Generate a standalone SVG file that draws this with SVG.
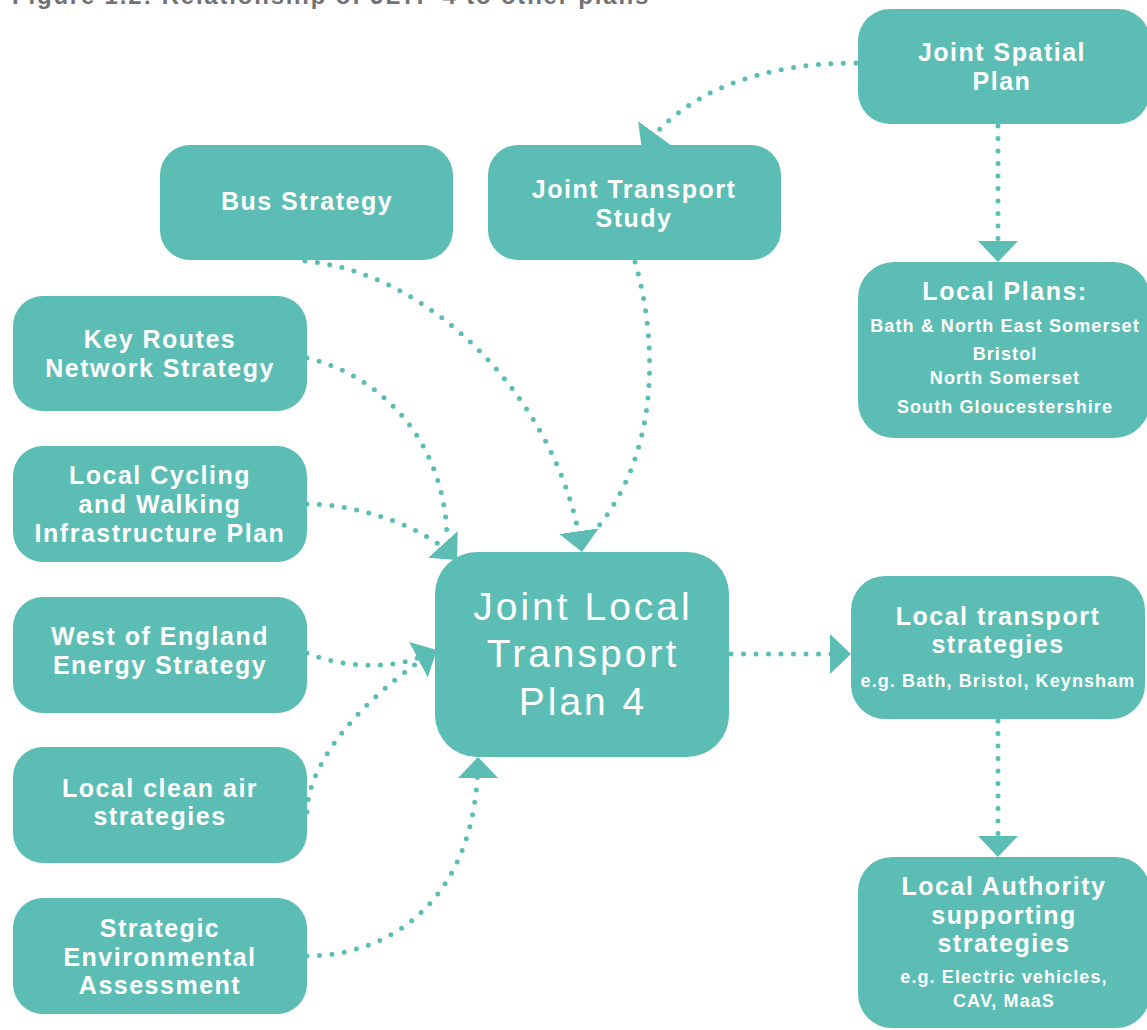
<svg xmlns="http://www.w3.org/2000/svg" width="1147" height="1030" viewBox="0 0 1147 1030">
  <style>
    .box { fill: #5BBDB4; }
    .t { fill: #ffffff; font-family: "Liberation Sans", Arial, sans-serif; font-weight: bold; font-size: 25px; letter-spacing: 1.5px; text-anchor: middle; }
    .s { font-size: 18px; letter-spacing: 1.1px; }
    .big { font-weight: normal; font-size: 39px; letter-spacing: 3px; }
    .title { fill: #707174; font-family: "Liberation Sans", Arial, sans-serif; font-weight: bold; font-size: 24px; letter-spacing: 1.8px; }
    .c { fill: none; stroke: #5BBDB4; stroke-width: 5; stroke-linecap: round; stroke-dasharray: 0 12.5; }
  </style>
  <defs>
    <marker id="arrow" markerUnits="userSpaceOnUse" markerWidth="22" markerHeight="40" refX="21" refY="20" orient="auto" viewBox="0 0 22 40">
      <path d="M0,0 L21,20 L0,40 Z" fill="#5BBDB4"/>
    </marker>
  </defs>

  <rect width="1147" height="1030" fill="#ffffff"/>

  <text class="title" x="12" y="4">Figure 1.2: Relationship of JLTP 4 to other plans</text>

  <g id="connectors">
    <path class="c" d="M856,63 C760,63 684,92 642,150" marker-end="url(#arrow)"/>
    <path class="c" d="M998,126 L998,262" marker-end="url(#arrow)"/>
    <path class="c" d="M305,261 C430,272 560,400 582,552" marker-end="url(#arrow)"/>
    <path class="c" d="M635,262 C655,330 665,450 593,533"/>
    <path class="c" d="M307,358 C380,375 445,440 447,538"/>
    <path class="c" d="M307,504 C360,504 428,528 457,560" marker-end="url(#arrow)"/>
    <path class="c" d="M307,653 C345,668 395,672 437,650" marker-end="url(#arrow)"/>
    <path class="c" d="M307,812 C308,760 365,700 416,664"/>
    <path class="c" d="M307,956 C390,956 478,900 478,757" marker-end="url(#arrow)"/>
    <path class="c" d="M731,654 L851,654" marker-end="url(#arrow)"/>
    <path class="c" d="M998,721 L998,857" marker-end="url(#arrow)"/>
  </g>

  <g id="joint-spatial-plan">
    <rect class="box" x="858" y="9" width="292" height="115" rx="32"/>
    <text class="t" x="1002" y="61">Joint Spatial</text>
    <text class="t" x="1002" y="90">Plan</text>
  </g>

  <g id="local-plans">
    <rect class="box" x="858" y="262" width="292" height="176" rx="36"/>
    <text class="t" x="1005" y="300">Local Plans:</text>
    <text class="t s" x="1005" y="332">Bath &amp; North East Somerset</text>
    <text class="t s" x="1005" y="360">Bristol</text>
    <text class="t s" x="1005" y="384">North Somerset</text>
    <text class="t s" x="1005" y="413">South Gloucestershire</text>
  </g>

  <g id="bus-strategy">
    <rect class="box" x="160" y="145" width="293" height="115" rx="30"/>
    <text class="t" x="307" y="210">Bus Strategy</text>
  </g>

  <g id="joint-transport-study">
    <rect class="box" x="488" y="145" width="293" height="115" rx="30"/>
    <text class="t" x="634" y="198">Joint Transport</text>
    <text class="t" x="634" y="227">Study</text>
  </g>

  <g id="key-routes">
    <rect class="box" x="13" y="296" width="294" height="115" rx="30"/>
    <text class="t" x="160" y="348">Key Routes</text>
    <text class="t" x="160" y="377">Network Strategy</text>
  </g>

  <g id="local-cycling-walking">
    <rect class="box" x="13" y="446" width="294" height="116" rx="30"/>
    <text class="t" x="160" y="484">Local Cycling</text>
    <text class="t" x="160" y="513">and Walking</text>
    <text class="t" x="160" y="542">Infrastructure Plan</text>
  </g>

  <g id="energy-strategy">
    <rect class="box" x="13" y="597" width="294" height="116" rx="30"/>
    <text class="t" x="160" y="645">West of England</text>
    <text class="t" x="160" y="674">Energy Strategy</text>
  </g>

  <g id="clean-air">
    <rect class="box" x="13" y="747" width="294" height="116" rx="30"/>
    <text class="t" x="160" y="797">Local clean air</text>
    <text class="t" x="160" y="825">strategies</text>
  </g>

  <g id="sea">
    <rect class="box" x="13" y="898" width="294" height="116" rx="30"/>
    <text class="t" x="160" y="937">Strategic</text>
    <text class="t" x="160" y="966">Environmental</text>
    <text class="t" x="160" y="994">Assessment</text>
  </g>

  <g id="jltp4">
    <rect class="box" x="435" y="552" width="294" height="205" rx="42"/>
    <text class="t big" x="583" y="620">Joint Local</text>
    <text class="t big" x="583" y="667">Transport</text>
    <text class="t big" x="583" y="715">Plan 4</text>
  </g>

  <g id="local-transport-strategies">
    <rect class="box" x="851" y="576" width="294" height="143" rx="34"/>
    <text class="t" x="998" y="625">Local transport</text>
    <text class="t" x="998" y="653">strategies</text>
    <text class="t s" x="998" y="687">e.g. Bath, Bristol, Keynsham</text>
  </g>

  <g id="local-authority-strategies">
    <rect class="box" x="858" y="857" width="292" height="171" rx="34"/>
    <text class="t" x="1004" y="895">Local Authority</text>
    <text class="t" x="1004" y="924">supporting</text>
    <text class="t" x="1004" y="952">strategies</text>
    <text class="t s" x="1004" y="983">e.g. Electric vehicles,</text>
    <text class="t s" x="1004" y="1007">CAV, MaaS</text>
  </g>
</svg>
